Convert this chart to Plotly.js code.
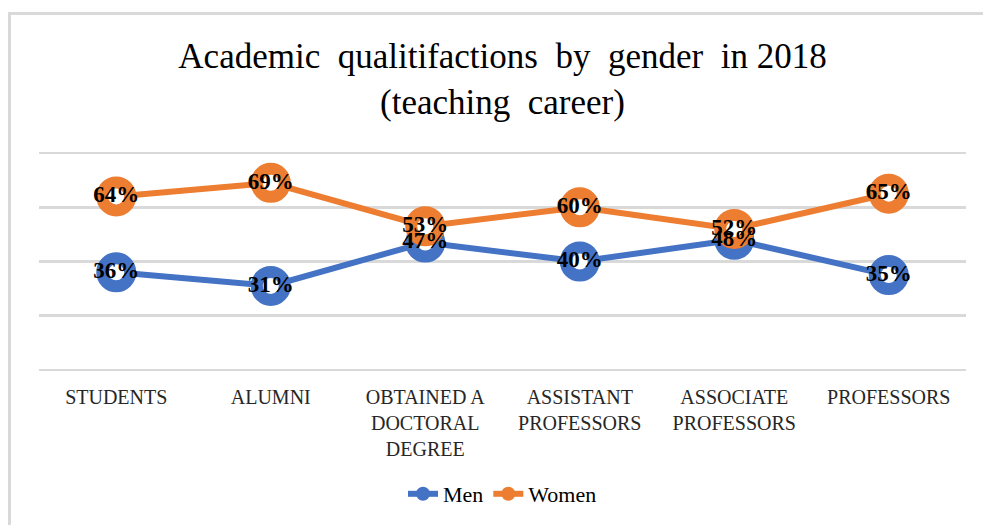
<!DOCTYPE html>
<html>
<head>
<meta charset="utf-8">
<script src="https://cdn.plot.ly/plotly-3.0.1.min.js"></script>
<style>
  html, body { margin: 0; padding: 0; background: #fff; }
  #wrap { position: relative; width: 983px; height: 525px; }
  #chart { position: absolute; left: 0; top: 0; width: 983px; height: 525px; }
  #frame { position: absolute; left: 8px; top: 12px; width: 980px; height: 520px;
           border-left: 3px solid #d9d9d9; border-top: 3px solid #d9d9d9; pointer-events: none; }
</style>
</head>
<body>
<div id="wrap">
  <div id="chart"></div>
  <div id="frame"></div>
</div>
<script>
const categories = ["STUDENTS", "ALUMNI", "OBTAINED A<br>DOCTORAL<br>DEGREE", "ASSISTANT<br>PROFESSORS", "ASSOCIATE<br>PROFESSORS", "PROFESSORS"];
const men = [36, 31, 47, 40, 48, 35];
const women = [64, 69, 53, 60, 52, 65];
const seriesNames = ["Men", "Women"];
const colors = ["#4472C4", "#ED7D31"];

const serif = "'Liberation Serif', 'Times New Roman', serif";

function line(y, name, color) {
  return {
    x: categories, y: y, name: name, type: "scatter",
    mode: "lines+markers", showlegend: false,
    line: { color: color, width: 6 },
    marker: { size: 28, color: "#ffffff", line: { color: color, width: 12 } },
    hoverinfo: "skip", cliponaxis: false
  };
}
function labels(y) {
  return {
    x: categories, y: y, type: "scatter", mode: "text", showlegend: false,
    text: y.map(v => v + "%"),
    texttemplate: "<b>%{text}</b>",
    textposition: "middle center",
    textfont: { family: serif, size: 23, color: "#000000" },
    hoverinfo: "skip", cliponaxis: false
  };
}
function legendItem(name, color) {
  return {
    x: [null], y: [null], name: name, type: "scatter", mode: "lines+markers",
    line: { color: color, width: 6 },
    marker: { size: 14, color: color },
    hoverinfo: "skip"
  };
}

const data = [
  line(men, seriesNames[0], colors[0]),
  line(women, seriesNames[1], colors[1]),
  labels(men),
  labels(women),
  legendItem(seriesNames[0], colors[0]),
  legendItem(seriesNames[1], colors[1])
];

const layout = {
  width: 983, height: 525,
  margin: { l: 39, r: 17, t: 151, b: 153 },
  paper_bgcolor: "#ffffff", plot_bgcolor: "#ffffff",
  font: { family: serif },
  title: {
    text: "Academic  qualitifactions  by  gender  in 2018<br>(teaching  career)",
    font: { family: serif, size: 35, color: "#000000" },
    x: 0.5, xanchor: "center", xref: "paper",
    y: 1 - 68 / 525, yanchor: "top", yref: "container"
  },
  xaxis: {
    type: "category", range: [-0.5, 5.5], autorange: false,
    showgrid: false, zeroline: false, showline: false,
    ticks: "", ticklen: 0, ticklabelstandoff: 11,
    tickfont: { family: serif, size: 20, color: "#262626" },
    fixedrange: true
  },
  yaxis: {
    range: [-0.75, 80.75], autorange: false, dtick: 20, tick0: 0, showticklabels: false,
    showgrid: true, gridcolor: "#d9d9d9", gridwidth: 2.5,
    zeroline: false, showline: false, ticks: "", fixedrange: true
  },
  showlegend: true,
  legend: {
    orientation: "h", x: 0.5, xanchor: "center", xref: "paper",
    y: (525 - 494) / 525, yanchor: "middle", yref: "container",
    font: { family: serif, size: 22, color: "#000000" },
    traceorder: "normal", itemgap: 24
  }
};

Plotly.newPlot("chart", data, layout, { displayModeBar: false, staticPlot: true });
</script>
</body>
</html>
